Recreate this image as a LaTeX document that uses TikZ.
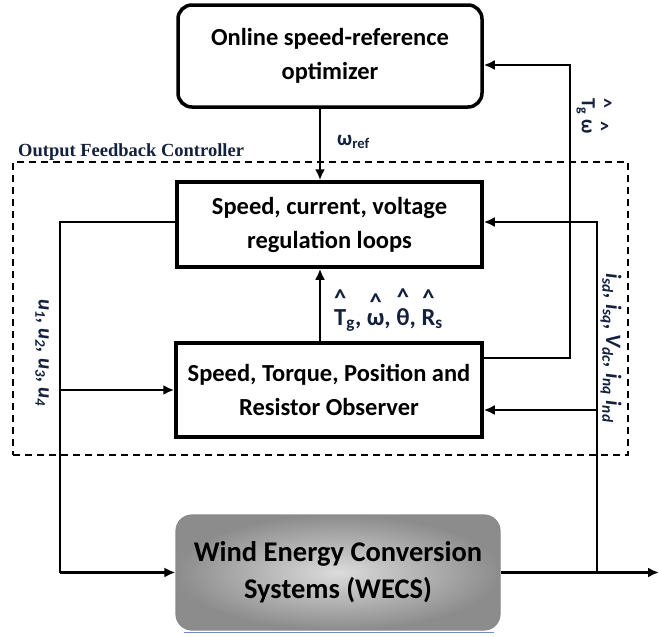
\documentclass[tikz,border=0pt]{standalone}
\usepackage{fontspec}
\setmainfont{Carlito}
\newfontfamily\serifb{Liberation Serif}
\usetikzlibrary{arrows.meta,positioning,calc}
\definecolor{navy}{HTML}{14213D}
\definecolor{rimgray}{HTML}{8A8A8A}
\definecolor{underblue}{HTML}{6F8FC0}
\newcommand{\hatc}[1]{\shortstack{\textasciicircum\\#1}}

\begin{document}
\begin{tikzpicture}[x=1pt,y=-1pt,
 blk/.style={draw,line width=3.5pt,minimum width=305pt,align=center,font=\fontsize{24.5}{34}\selectfont\bfseries},
 conn/.style={line width=2.5pt,-{Latex[length=11pt,width=10pt]}},
 wire/.style={line width=2.5pt},
 lbl/.style={text=navy,inner sep=0pt,font=\fontsize{20}{22}\selectfont\bfseries}]
\useasboundingbox (0,0) rectangle (659,637);

\node[blk,rounded corners=14pt,minimum width=304pt,minimum height=102pt] (opt) at (330,56) {Online speed-reference\\optimizer};
\node[blk,minimum height=85pt] (reg) at (329.5,224.5) {Speed, current, voltage\\regulation loops};
\node[blk,minimum width=306pt,minimum height=94pt] (obs) at (329,390) {Speed, Torque, Position and\\Resistor Observer};
\node[draw=rimgray,line width=1.2pt,rounded corners=16pt,inner color=gray!28,outer color=gray!90,minimum width=324pt,minimum height=115pt,align=center,font=\fontsize{28.5}{37}\selectfont\bfseries] (wecs) at (338,572.5) {Wind Energy Conversion\\Systems (WECS)};
\draw[underblue,line width=1pt] ([xshift=9pt,yshift=-2pt]wecs.south west) -- ([xshift=-7pt,yshift=-2pt]wecs.south east);

\node[draw,line width=1.2pt,dash pattern=on 7pt off 5pt,minimum width=615pt,minimum height=293pt] (ofc) at (320.5,308.5) {};
\node[lbl,anchor=base west,font=\serifb\fontsize{18.5}{20}\selectfont\bfseries] (ofclbl) at (18,156) {Output Feedback Controller};

\node[lbl,anchor=west,font=\fontsize{21}{22}\selectfont\bfseries] (wref) at (337,142) {ω\textsubscript{ref}};
\node[lbl,anchor=west,font=\fontsize{24.5}{26}\selectfont\bfseries] (est) at (334,310) {\hatc{T}\textsubscript{g}, \hatc{ω}, \hatc{θ}, \hatc{R}\textsubscript{s}};
\node[lbl,rotate=-90] (fb) at (594,116) {\hatc{T}\textsubscript{g} \hatc{ω}};
\node[lbl,rotate=-90,font=\fontsize{21}{22}\selectfont\bfseries\itshape] (uin) at (42,353) {u\textsubscript{1}, u\textsubscript{2}, u\textsubscript{3}, u\textsubscript{4}};
\node[lbl,rotate=-90,font=\fontsize{22}{24}\selectfont\bfseries\itshape] (meas) at (611,348) {i\textsubscript{sd}, i\textsubscript{sq}, V\textsubscript{dc}, i\textsubscript{nq} i\textsubscript{nd}};

\coordinate (lft) at (60,572.5);
\coordinate (tap) at (597,572.5);
\coordinate (tapo) at (597,410);
\coordinate (out) at (659,572.5);

\draw[conn] ([xshift=-10pt]opt.south) -- ([xshift=-9.5pt]reg.north);
\draw[conn] ([xshift=-9pt]obs.north) -- ([xshift=-9.5pt]reg.south);
\draw[conn] ([yshift=32pt]obs.east) -- ++(86,0) |- ([yshift=-9pt]opt.east);
\draw[wire] ([yshift=2.5pt]reg.west) -| (lft);
\draw[conn] (lft) -- (wecs.west);
\draw[conn] (lft |- obs.west) -- (obs.west);
\draw[conn] (wecs.east) -- (out);
\draw[conn] (tap) |- ([yshift=2.5pt]reg.east);
\draw[conn] (tapo) -- (tapo -| obs.east);
\end{tikzpicture}
\end{document}
